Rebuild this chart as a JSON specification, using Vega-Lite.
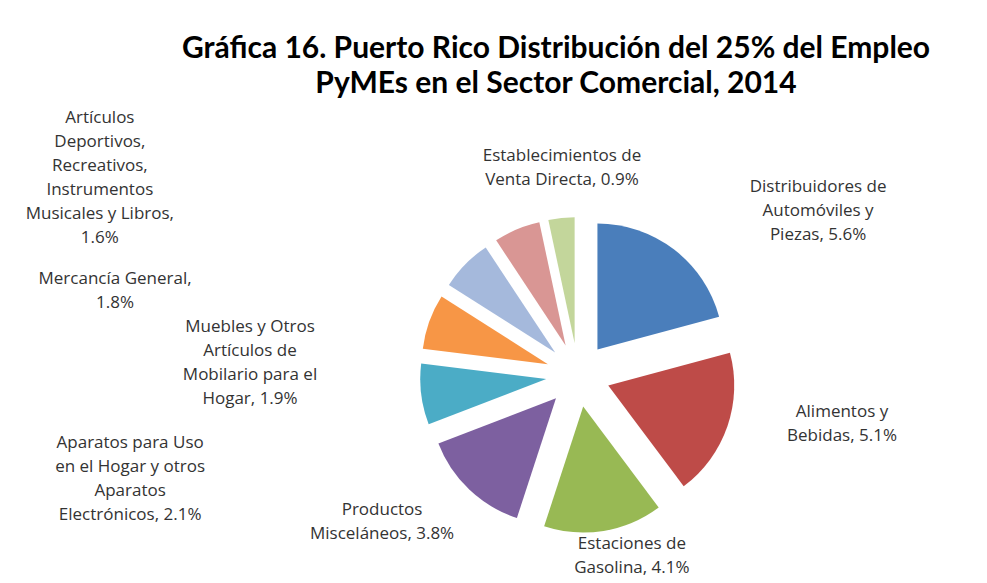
{
  "$schema": "https://vega.github.io/schema/vega-lite/v6.json",
  "width": 818,
  "height": 416,
  "autosize": {"type": "none"},
  "padding": {"left": 169, "top": 167, "right": 0, "bottom": 0},
  "background": "white",
  "config": {"view": {"stroke": null}, "font": "Open Sans"},
  "title": {
    "text": ["Gráfica 16.  Puerto Rico Distribución del 25% del Empleo", "PyMEs en el Sector Comercial, 2014"],
    "font": "Lato",
    "fontSize": 30,
    "fontWeight": "bold",
    "color": "#000000",
    "lineHeight": 35,
    "anchor": "middle",
    "frame": "group",
    "dx": -22,
    "offset": 10
  },
  "data": {
    "values": [
      {"orden": 1, "Sector": "Distribuidores de Automóviles y Piezas", "Empleo": 5.6, "etiqueta": "Distribuidores de|Automóviles y|Piezas, 5.6%"},
      {"orden": 2, "Sector": "Alimentos y Bebidas", "Empleo": 5.1, "etiqueta": "Alimentos y|Bebidas, 5.1%"},
      {"orden": 3, "Sector": "Estaciones de Gasolina", "Empleo": 4.1, "etiqueta": "Estaciones de|Gasolina, 4.1%"},
      {"orden": 4, "Sector": "Productos Misceláneos", "Empleo": 3.8, "etiqueta": "Productos|Misceláneos, 3.8%"},
      {"orden": 5, "Sector": "Aparatos para Uso en el Hogar y otros Aparatos Electrónicos", "Empleo": 2.1, "etiqueta": "Aparatos para Uso|en el Hogar y otros|Aparatos|Electrónicos, 2.1%"},
      {"orden": 6, "Sector": "Muebles y Otros Artículos de Mobilario para el Hogar", "Empleo": 1.9, "etiqueta": "Muebles y Otros|Artículos de|Mobilario para el|Hogar, 1.9%"},
      {"orden": 7, "Sector": "Mercancía General", "Empleo": 1.8, "etiqueta": "Mercancía General,|1.8%"},
      {"orden": 8, "Sector": "Artículos Deportivos, Recreativos, Instrumentos Musicales y Libros", "Empleo": 1.6, "etiqueta": "Artículos|Deportivos,|Recreativos,|Instrumentos|Musicales y Libros,|1.6%"},
      {"orden": 9, "Sector": "Establecimientos de Venta Directa", "Empleo": 0.9, "etiqueta": "Establecimientos de|Venta Directa, 0.9%"}
    ]
  },
  "encoding": {
    "theta": {"field": "Empleo", "type": "quantitative", "stack": true},
    "order": {"field": "orden", "type": "quantitative"}
  },
  "layer": [
    {
      "mark": {
        "type": "arc",
        "outerRadius": 126,
        "xOffset": {"expr": "32*sin(scale('theta', (datum.Empleo_start + datum.Empleo_end)/2))"},
        "yOffset": {"expr": "-32*cos(scale('theta', (datum.Empleo_start + datum.Empleo_end)/2))"}
      },
      "encoding": {
        "color": {
          "field": "Sector",
          "type": "nominal",
          "legend": null,
          "scale": {
            "domain": [
              "Distribuidores de Automóviles y Piezas",
              "Alimentos y Bebidas",
              "Estaciones de Gasolina",
              "Productos Misceláneos",
              "Aparatos para Uso en el Hogar y otros Aparatos Electrónicos",
              "Muebles y Otros Artículos de Mobilario para el Hogar",
              "Mercancía General",
              "Artículos Deportivos, Recreativos, Instrumentos Musicales y Libros",
              "Establecimientos de Venta Directa"
            ],
            "range": ["#4A7EBB", "#BE4B48", "#98B954", "#7D60A0", "#4BACC6", "#F79646", "#A5B9DC", "#D99694", "#C3D69B"]
          }
        }
      }
    },
    {
      "mark": {
        "type": "text",
        "lineBreak": "|",
        "fontSize": 17,
        "lineHeight": 24,
        "color": "#333333",
        "align": "center",
        "baseline": "middle",
        "radius": {"expr": "[305, 266.6, 177.4, 238, 453, 331.5, 472.8, 542.7, 219.6][datum.orden - 1]"},
        "thetaOffset": {"expr": "[0.252, -0.193, -0.145, 0.208, -0.028, -0.199, -0.572, -0.681, 0.032][datum.orden - 1]"}
      },
      "encoding": {
        "text": {"field": "etiqueta", "type": "nominal"}
      }
    }
  ]
}
